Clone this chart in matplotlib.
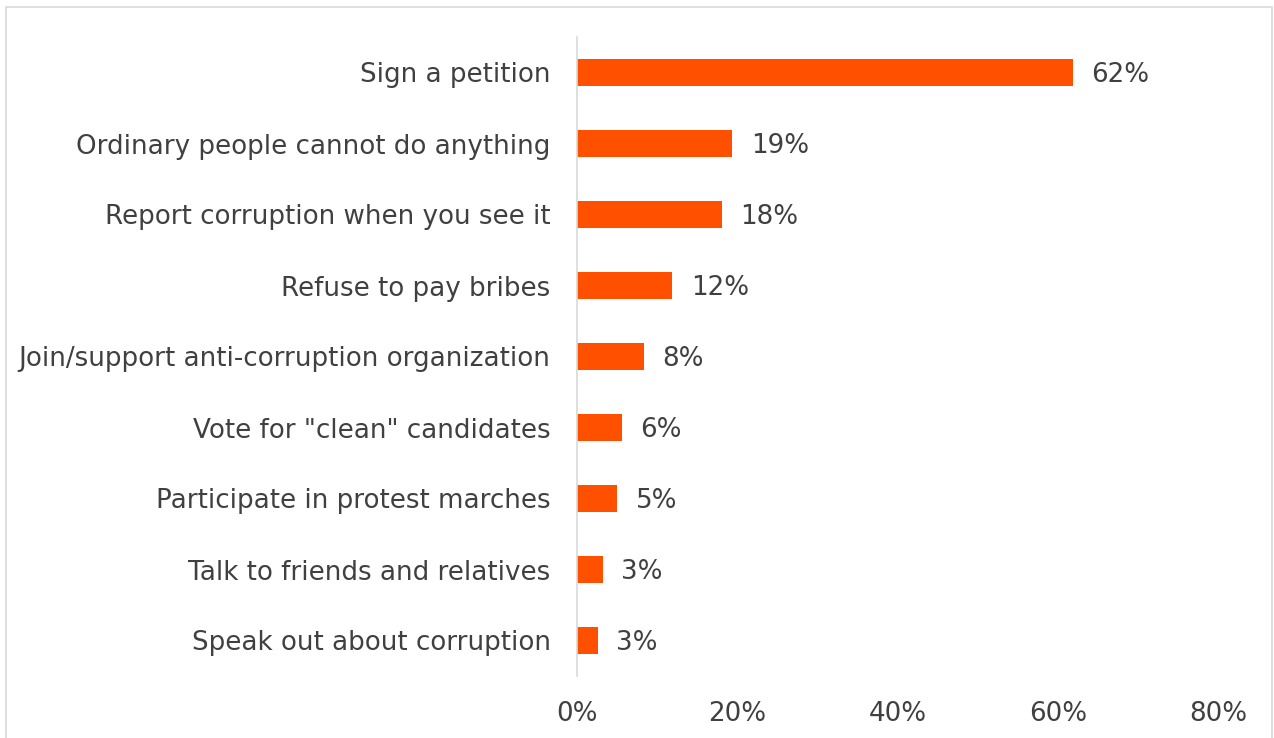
import matplotlib
matplotlib.use('Agg')
import matplotlib.pyplot as plt
from matplotlib.patches import Rectangle
from matplotlib.ticker import FuncFormatter

# Survey answers, top to bottom, with share of respondents (%)
actions = [
    "Sign a petition",
    "Ordinary people cannot do anything",
    "Report corruption when you see it",
    "Refuse to pay bribes",
    "Join/support anti-corruption organization",
    "Vote for \"clean\" candidates",
    "Participate in protest marches",
    "Talk to friends and relatives",
    "Speak out about corruption",
]
shares = [61.9, 19.4, 18.1, 11.9, 8.4, 5.6, 5.0, 3.2, 2.6]
xticks = [0, 20, 40, 60, 80]

plt.rcParams['font.family'] = ['DejaVu Sans']
text_color = '#404040'
bar_color = '#FF5000'
fsize = 18.8

fig = plt.figure(figsize=(12.74, 7.38), dpi=100)
ax = fig.add_axes([577 / 1274, 1 - 676 / 738, (1218 - 577) / 1274, (676 - 37) / 738])

# outer chart frame
fig.patches.append(Rectangle((6 / 1274, -0.01), (1272 - 6) / 1274, 1 - 7 / 738 + 0.01,
                             transform=fig.transFigure, fill=False,
                             edgecolor='#d9d9d9', linewidth=1.2))

ypos = list(range(len(actions)))
ax.barh(ypos, shares, height=0.37, color=bar_color)
for y, v in zip(ypos, shares):
    ax.text(v + 2.3, y + 0.04, "{:.0f}%".format(v), va='center', ha='left',
            fontsize=fsize, color=text_color)

ax.set_ylim(len(actions) - 0.5, -0.5)
ax.set_xlim(0, 80)
ax.set_yticks(ypos)
ax.set_yticklabels(actions, fontsize=fsize, color=text_color)
ax.set_xticks(xticks)
ax.xaxis.set_major_formatter(FuncFormatter(lambda v, p: "{:.0f}%".format(v)))
ax.tick_params(axis='x', labelsize=fsize, labelcolor=text_color, length=0, pad=18)
ax.tick_params(axis='y', length=0, pad=19)

for side in ['top', 'right', 'bottom']:
    ax.spines[side].set_visible(False)
ax.spines['left'].set_color('#d9d9d9')
ax.spines['left'].set_linewidth(1.2)

plt.savefig('out.png', dpi=100)
plt.close()
